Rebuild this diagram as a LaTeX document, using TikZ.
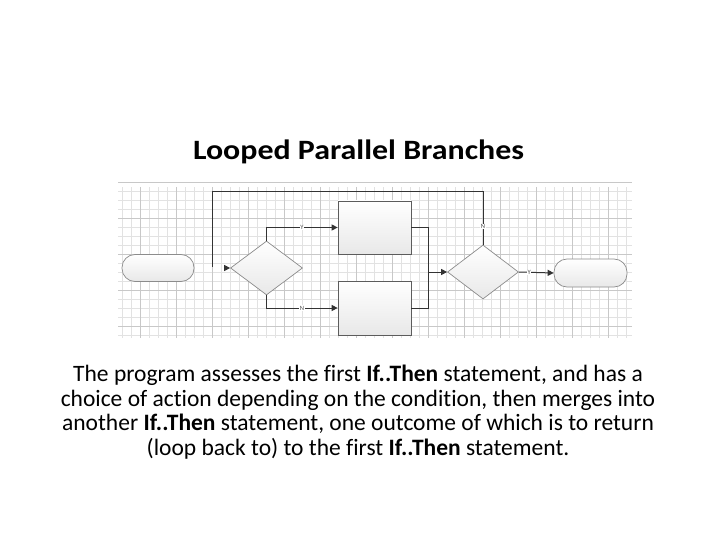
\documentclass[tikz,border=0pt]{standalone}
\usepackage{fontspec}
\setmainfont{Carlito}[Ligatures=NoCommon]
\usetikzlibrary{arrows.meta,shapes.geometric}
\definecolor{lnc}{HTML}{333333}
\definecolor{gmin}{HTML}{E2E2E2}
\definecolor{gmaj}{HTML}{C8C8C8}
\tikzset{
  shp/.style={draw=lnc!80, line width=0.7pt, top color=white, bottom color=gray!18, inner sep=0pt},
  boxn/.style={shp, rectangle, minimum width=73pt, minimum height=53pt},
  dia/.style={shp, diamond, draw=gray!90, minimum width=72pt, minimum height=54pt},
  term/.style={shp, rectangle, draw=gray!90, rounded corners=13pt, minimum width=72pt, minimum height=27pt},
  conn/.style={draw=lnc, line width=1pt},
  arr/.style={conn, -{Triangle[length=6pt,width=6pt]}},
  lbl/.style={fill=white, inner sep=0.6pt, font=\fontsize{6.5}{6.5}\selectfont, text=gray!60!black}
}
\begin{document}
\begin{tikzpicture}[x=1pt,y=-1pt]
\useasboundingbox (0,0) rectangle (720,540);
% grid
\foreach \x in {122.7,131.7,...,632} \draw[gmin, line width=0.5pt] (\x,187) -- (\x,338);
\foreach \y in {191.7,200.7,...,338} \draw[gmin, line width=0.5pt] (118,\y) -- (632,\y);
\foreach \x in {140.7,176.7,...,632} \draw[gmaj, line width=0.6pt] (\x,187) -- (\x,338);
\foreach \y in {182.7,218.7,...,338} \draw[gmaj, line width=0.6pt] (118,\y) -- (632,\y);
% title
\node[anchor=base, inner sep=0pt] (title) at (358.5,160) {\scalebox{1.14}[1]{\fontsize{28}{32}\selectfont\bfseries Looped Parallel Branches}};
% shapes
\node[term] (start) at (158,268) {};
\node[dia] (d1) at (266.5,268) {};
\node[boxn] (b1) at (374.5,227.5) {};
\node[boxn, minimum height=54pt] (b2) at (374.5,308) {};
\node[dia, minimum width=71pt] (d2) at (483,272) {};
\node[term, minimum width=73pt, minimum height=28pt] (end) at (590.5,273) {};
% connectors
\draw[arr] (d1.north) |- node[lbl, pos=0.75] {Y} (b1.west);
\draw[arr] (d1.south) |- node[lbl, pos=0.75] {N} (b2.west);
\coordinate (m) at (428.7,272);
\draw[conn] (b1.east) -| (m);
\draw[conn] (b2.east) -| (m);
\draw[arr] (m) -- (d2.west);
\draw[arr] (d2.east) -- node[lbl, pos=0.3] {Y} (end.west);
\coordinate (lt) at (212.3,191.7);
\coordinate (lb) at (212.3,266.5);
\draw[conn] (d2.north) -- node[lbl, pos=0.34] {N} (d2.north |- lt) -- (lt) -- (lb);
\coordinate (ah) at (225,268);
\draw[arr] (ah) -- (d1.west);
% body text
\node[font=\fontsize{23.5}{24.5}\selectfont, align=center, inner sep=0pt] (body) at (358,412)
{The program assesses the first \textbf{If..Then} statement, and has a\\
choice of action depending on the condition, then merges into\\
another \textbf{If..Then} statement, one outcome of which is to return\\
(loop back to) to the first \textbf{If..Then} statement.};
\end{tikzpicture}
\end{document}
